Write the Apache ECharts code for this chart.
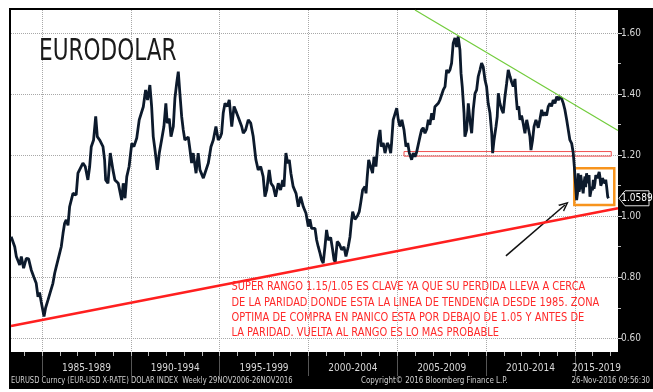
<!DOCTYPE html>
<html><head><meta charset="utf-8">
<script src="https://cdn.jsdelivr.net/npm/echarts@6/dist/echarts.min.js"></script>
<style>html,body{margin:0;padding:0;background:#fff;}#c{width:653px;height:392px;}</style>
</head><body><div id="c"></div>
<script>
// ---- EUR/USD weekly-ish closes (decimal year, value) ----
const yrs1983 = [1983.26,1983.46,1983.55,1983.74,1983.83,1983.96,1984.11,1984.24,1984.39,1984.54,1984.67,1984.77,1984.86,1984.95];
const val1983 = [0.933,0.900,0.868,0.840,0.868,0.830,0.862,0.860,0.824,0.800,0.780,0.736,0.750,0.720];
const yrs1985 = [1985.11,1985.20,1985.33,1985.43,1985.61,1985.71,1985.80,1985.99,1986.08,1986.18,1986.27,1986.36,1986.46,1986.55,1986.74,1986.92];
const val1985 = [0.671,0.700,0.725,0.745,0.780,0.813,0.835,0.879,0.900,0.944,0.977,0.988,0.970,1.031,1.075,1.070];
const yrs1987 = [1987.02,1987.11,1987.30,1987.43,1987.58,1987.68,1987.77,1987.90,1988.02,1988.11,1988.24,1988.43,1988.52,1988.58,1988.71,1988.84,1988.99];
const val1987 = [1.141,1.152,1.174,1.163,1.119,1.163,1.228,1.250,1.327,1.261,1.250,1.228,1.185,1.119,1.108,1.207,1.152];
const yrs1989 = [1989.10,1989.29,1989.48,1989.57,1989.67,1989.77,1989.90,1990.05,1990.17,1990.33,1990.47,1990.70,1990.83,1990.94,1991.07];
const val1989 = [1.119,1.108,1.053,1.108,1.059,1.130,1.163,1.239,1.228,1.256,1.316,1.359,1.414,1.381,1.430];
const yrs1991 = [1991.17,1991.26,1991.36,1991.49,1991.60,1991.73,1991.86,1991.97,1992.05,1992.16,1992.26,1992.39,1992.48,1992.58,1992.67,1992.76,1992.86,1992.95];
const val1991 = [1.359,1.261,1.217,1.152,1.207,1.250,1.294,1.370,1.305,1.320,1.261,1.294,1.387,1.436,1.474,1.403,1.327,1.283];
const yrs1993 = [1993.04,1993.23,1993.33,1993.42,1993.51,1993.67,1993.79,1993.89,1994.08,1994.17,1994.36,1994.51,1994.64,1994.79,1994.92];
const val1993 = [1.250,1.260,1.217,1.174,1.207,1.141,1.207,1.152,1.125,1.141,1.174,1.228,1.250,1.294,1.250];
const yrs1995 = [1995.04,1995.11,1995.20,1995.30,1995.43,1995.54,1995.68,1995.81,1995.96,1996.10,1996.24,1996.33,1996.46,1996.61,1996.75,1996.89];
const val1995 = [1.260,1.272,1.338,1.370,1.360,1.381,1.294,1.360,1.338,1.316,1.294,1.272,1.283,1.316,1.305,1.261];
const yrs1997 = [1997.04,1997.17,1997.31,1997.45,1997.55,1997.65,1997.79,1997.89,1998.02,1998.15,1998.30,1998.43,1998.55,1998.62,1998.73,1998.83,1998.92];
const val1997 = [1.185,1.152,1.163,1.130,1.064,1.086,1.152,1.108,1.097,1.064,1.108,1.086,1.119,1.097,1.207,1.174,1.185];
const yrs1999 = [1999.01,1999.14,1999.30,1999.43,1999.56,1999.71,1999.86,1999.99,2000.08,2000.18,2000.27,2000.37,2000.46,2000.55,2000.65,2000.74,2000.83,2000.93];
const val1999 = [1.141,1.097,1.075,1.031,1.064,1.031,1.010,0.966,0.990,0.960,0.955,0.960,0.922,0.900,0.879,0.857,0.846,0.900];
const yrs2001 = [2001.02,2001.11,2001.25,2001.36,2001.44,2001.51,2001.62,2001.73,2001.87,2002.00,2002.11,2002.24,2002.34,2002.43,2002.49,2002.62,2002.75,2002.86,2002.94];
const val2001 = [0.955,0.922,0.930,0.890,0.857,0.850,0.917,0.910,0.890,0.900,0.868,0.900,0.933,0.988,1.015,0.990,1.000,1.015,1.043];
const yrs2003 = [2003.05,2003.18,2003.24,2003.31,2003.39,2003.50,2003.61,2003.69,2003.80,2003.93,2004.03,2004.10,2004.21,2004.31,2004.44,2004.55,2004.63,2004.68,2004.77,2004.87,2004.97];
const val2003 = [1.086,1.097,1.075,1.130,1.185,1.163,1.141,1.195,1.163,1.250,1.283,1.228,1.240,1.207,1.240,1.228,1.207,1.240,1.316,1.316,1.354];
const yrs2005 = [2005.06,2005.15,2005.26,2005.38,2005.49,2005.59,2005.68,2005.81,2005.90,2006.00,2006.09,2006.18,2006.28,2006.37,2006.46,2006.56,2006.66,2006.75,2006.84,2006.94];
const val2005 = [1.316,1.294,1.316,1.283,1.228,1.240,1.207,1.185,1.207,1.195,1.210,1.207,1.261,1.283,1.290,1.272,1.285,1.316,1.300,1.338];
const yrs2007 = [2007.03,2007.12,2007.22,2007.31,2007.40,2007.50,2007.59,2007.69,2007.78,2007.87,2007.97,2008.06,2008.15,2008.25,2008.34,2008.43,2008.53,2008.59,2008.66,2008.76,2008.81,2008.91];
const val2007 = [1.316,1.359,1.355,1.370,1.381,1.381,1.414,1.425,1.480,1.470,1.480,1.502,1.567,1.584,1.555,1.589,1.545,1.469,1.425,1.338,1.261,1.283];
const yrs2009 = [2009.00,2009.09,2009.19,2009.28,2009.38,2009.47,2009.56,2009.66,2009.75,2009.84,2009.94,2010.03,2010.12,2010.22,2010.32,2010.37,2010.45,2010.56,2010.63,2010.69,2010.78,2010.88,2010.97];
const val2009 = [1.370,1.316,1.272,1.350,1.403,1.414,1.458,1.480,1.502,1.490,1.447,1.425,1.370,1.338,1.272,1.207,1.250,1.294,1.327,1.403,1.370,1.350,1.338];
const yrs2011 = [2011.06,2011.16,2011.25,2011.35,2011.44,2011.53,2011.63,2011.68,2011.76,2011.84,2011.91,2012.00,2012.09,2012.19,2012.29,2012.38,2012.47,2012.53,2012.62,2012.70,2012.81,2012.94];
const val2011 = [1.390,1.436,1.480,1.458,1.440,1.425,1.450,1.403,1.349,1.360,1.316,1.330,1.305,1.272,1.316,1.290,1.261,1.217,1.250,1.294,1.316,1.290];
const yrs2013 = [2013.03,2013.13,2013.22,2013.32,2013.41,2013.50,2013.60,2013.69,2013.78,2013.88,2013.98,2014.07,2014.16,2014.26,2014.35,2014.44,2014.54,2014.63,2014.72,2014.82,2014.91,2014.97];
const val2013 = [1.316,1.349,1.330,1.340,1.330,1.359,1.370,1.360,1.381,1.370,1.392,1.380,1.392,1.385,1.370,1.349,1.316,1.283,1.250,1.239,1.207,1.163];
const yrs2015 = [2015.01,2015.06,2015.10,2015.15,2015.19,2015.24,2015.29,2015.33,2015.38,2015.43,2015.47,2015.52,2015.57,2015.61,2015.66,2015.70,2015.75,2015.80,2015.85,2015.90,2015.94,2015.99,2016.04,2016.08,2016.13,2016.18,2016.23,2016.27,2016.32,2016.37,2016.41,2016.46,2016.51,2016.55,2016.60,2016.65,2016.69,2016.74,2016.79,2016.85,2016.90];
const val2015 = [1.130,1.086,1.053,1.075,1.141,1.080,1.097,1.135,1.130,1.090,1.075,1.110,1.130,1.095,1.141,1.120,1.108,1.135,1.064,1.080,1.097,1.085,1.119,1.090,1.108,1.135,1.141,1.125,1.119,1.145,1.130,1.100,1.108,1.125,1.119,1.130,1.108,1.120,1.097,1.064,1.059];
const lastValue = 1.0589;

// ---- axes / ticks ----
const periodBounds = [1985,1990,1995,2000,2005,2010,2015];
const periodLabels = ['1985-1989','1990-1994','1995-1999','2000-2004','2005-2009','2010-2014','2015-2019'];
const periodLabelAt = [1987.5,1992.5,1997.5,2002.5,2007.5,2012.5,2016.22];
const yearTicks = [1984,1985,1986,1987,1988,1989,1990,1991,1992,1993,1994,1995,1996,1997,1998,1999,2000,2001,2002,2003,2004,2005,2006,2007,2008,2009,2010,2011,2012,2013,2014,2015,2016,2017];
const yTicks = [0.6,0.8,1.0,1.2,1.4,1.6];
const yMinorTicks = [0.7,0.9,1.1,1.3,1.5];
const xMin = 1983.25, xMax = 2017.43, yMin = 0.555, yMax = 1.676;

// ---- annotations (data coordinates) ----
const redTrend = [[1983.25, 0.640],[2017.43, 1.026]];
const greenTrend = [[2006.0, 1.676],[2017.43, 1.281]];
const redBox = [[2005.38, 1.212],[2017.05, 1.197]];
const orangeBox = [[2014.97, 1.157],[2017.22, 1.037]];
const arrowLine = [[2011.12, 0.870],[2014.44, 1.037]];

const titleText = 'EURODOLAR';
const noteLines = [
 'SUPER RANGO 1.15/1.05 ES CLAVE YA QUE SU PERDIDA LLEVA A CERCA',
 'DE LA PARIDAD DONDE ESTA LA LINEA DE TENDENCIA DESDE 1985. ZONA',
 'OPTIMA DE COMPRA EN PANICO ESTA POR DEBAJO DE 1.05 Y ANTES DE',
 'LA PARIDAD. VUELTA AL RANGO ES LO MAS PROBABLE'
];
const footLeft = 'EURUSD Curncy (EUR-USD X-RATE) DOLAR INDEX  Weekly 29NOV2006-26NOV2016';
const footMid = 'Copyright\u00A9 2016 Bloomberg Finance L.P.';
const footRight = '26-Nov-2016 09:56:30';

const years = [].concat(yrs1983,yrs1985,yrs1987,yrs1989,yrs1991,yrs1993,yrs1995,yrs1997,yrs1999,yrs2001,yrs2003,yrs2005,yrs2007,yrs2009,yrs2011,yrs2013,yrs2015);
const vals = [].concat(val1983,val1985,val1987,val1989,val1991,val1993,val1995,val1997,val1999,val2001,val2003,val2005,val2007,val2009,val2011,val2013,val2015);
const lineData = years.map((y,i)=>[y, vals[i]]);

const NARROW = "'Liberation Sans Narrow','Arial Narrow','DejaVu Sans Condensed',sans-serif";
const chart = echarts.init(document.getElementById('c'), null, {renderer:'canvas'});

const option = {
  animation:false,
  backgroundColor:'transparent',
  grid:{left:11, top:10, width:607, height:342, show:true, backgroundColor:'#fff', borderWidth:0, z:0},
  xAxis:[{
    type:'value', min:xMin, max:xMax,
    axisLine:{show:false},
    axisTick:{show:true, customValues:periodBounds, length:24, lineStyle:{color:'#555555', width:1}},
    splitLine:{show:true, lineStyle:{color:'#a8a8a8', type:'dotted', width:1}},
    axisLabel:{customValues:periodLabelAt, color:'#d8d8d8', fontSize:10, fontFamily:NARROW, margin:11,
      formatter:(v)=>{const i=periodLabelAt.findIndex(p=>Math.abs(p-v)<1e-6); return i>=0?periodLabels[i]:'';}}
  },{
    type:'value', min:xMin, max:xMax, position:'bottom',
    axisLine:{show:false},
    axisTick:{show:true, customValues:yearTicks, length:4, lineStyle:{color:'#bbbbbb'}},
    axisLabel:{show:false}, splitLine:{show:false}
  }],
  yAxis:[{
    type:'value', position:'right', min:yMin, max:yMax,
    axisLine:{show:false},
    axisTick:{show:true, customValues:yTicks, length:4, lineStyle:{color:'#d0d0d0'}},
    splitLine:{show:true, lineStyle:{color:'#a8a8a8', type:'dotted', width:1}},
    axisLabel:{customValues:yTicks, color:'#d8d8d8', fontSize:10, fontFamily:NARROW, margin:3, formatter:(v)=>v.toFixed(2)}
  },{
    type:'value', position:'right', min:yMin, max:yMax,
    axisLine:{show:false},
    axisTick:{show:true, customValues:yMinorTicks, length:3, lineStyle:{color:'#bbbbbb'}},
    axisLabel:{show:false}, splitLine:{show:false}
  }],
  series:[
    {type:'line', name:'EURUSD', data:lineData, showSymbol:false, symbol:'none', z:5,
     lineStyle:{color:'#0c1a2c', width:2.8}, clip:true,
     markArea:{silent:true, data:[
       [{coord:redBox[0], itemStyle:{color:'rgba(0,0,0,0)', borderColor:'#f05050', borderWidth:1}},{coord:redBox[1]}],
       [{coord:orangeBox[0], itemStyle:{color:'rgba(0,0,0,0)', borderColor:'#f7941d', borderWidth:2.5}},{coord:orangeBox[1]}]
     ]},
     markLine:{silent:true, symbol:['none','path://M0,10 L5,0 L10,10 L8.2,10 L5,3.6 L1.8,10 Z'], symbolSize:[9,10],
       lineStyle:{color:'#111', width:1.5, type:'solid'}, label:{show:false},
       data:[[{coord:arrowLine[0]},{coord:arrowLine[1]}]]}
    },
    {type:'line', name:'trend', data:redTrend, showSymbol:false, symbol:'none', z:6,
     lineStyle:{color:'#ff1f1f', width:2.6}},
    {type:'line', name:'resist', data:greenTrend, showSymbol:false, symbol:'none', z:6,
     lineStyle:{color:'#72cc3c', width:1.2}}
  ]
};
chart.setOption(option);

// all decorations, with the last-value tag placed through the axis scale
const py = chart.convertToPixel({yAxisIndex:0}, lastValue);
const graphics = [
  {id:'frame', type:'rect', z:-100, silent:true, shape:{x:9, y:8, width:644, height:381}, style:{fill:'#000'}},
  {id:'title', type:'text', x:39, y:51.5, z:50, scaleX:0.775,
   style:{text:titleText, fill:'#1a1a1a', fontSize:31, fontFamily:NARROW, verticalAlign:'middle'}},
  {id:'fl', type:'text', x:11, y:381, z:50, scaleX:0.835, style:{text:footLeft, fill:'#d0d0d0', fontSize:9, fontFamily:NARROW, verticalAlign:'middle'}},
  {id:'fm', type:'text', x:361, y:381, z:50, scaleX:0.88, style:{text:footMid, fill:'#d0d0d0', fontSize:9, fontFamily:NARROW, verticalAlign:'middle'}},
  {id:'fr', type:'text', x:650, y:381, z:50, scaleX:0.86, style:{text:footRight, fill:'#d0d0d0', fontSize:9, fontFamily:NARROW, verticalAlign:'middle', align:'right'}},
  {id:'tagbox', type:'polygon', z:60, shape:{points:[[619,py],[625,py-7.5],[649,py-7.5],[649,py+7.5],[625,py+7.5]]},
   style:{fill:'#000', stroke:'#e0e0e0', lineWidth:1}},
  {id:'tagtxt', type:'text', z:61, x:637, y:py, style:{text:lastValue.toFixed(4), fill:'#ffffff', fontSize:10, fontFamily:NARROW, align:'center', verticalAlign:'middle'}}
].concat(noteLines.map((t,i)=>({
  id:'note'+i, type:'text', x:231.5, y:287.2 + i*15.2, z:50, scaleX:0.89,
  style:{text:t, fill:'#ff2a2a', fontSize:12.3, fontFamily:NARROW, verticalAlign:'middle', align:'left'}
})));
chart.setOption({graphic:graphics});
</script></body></html>
